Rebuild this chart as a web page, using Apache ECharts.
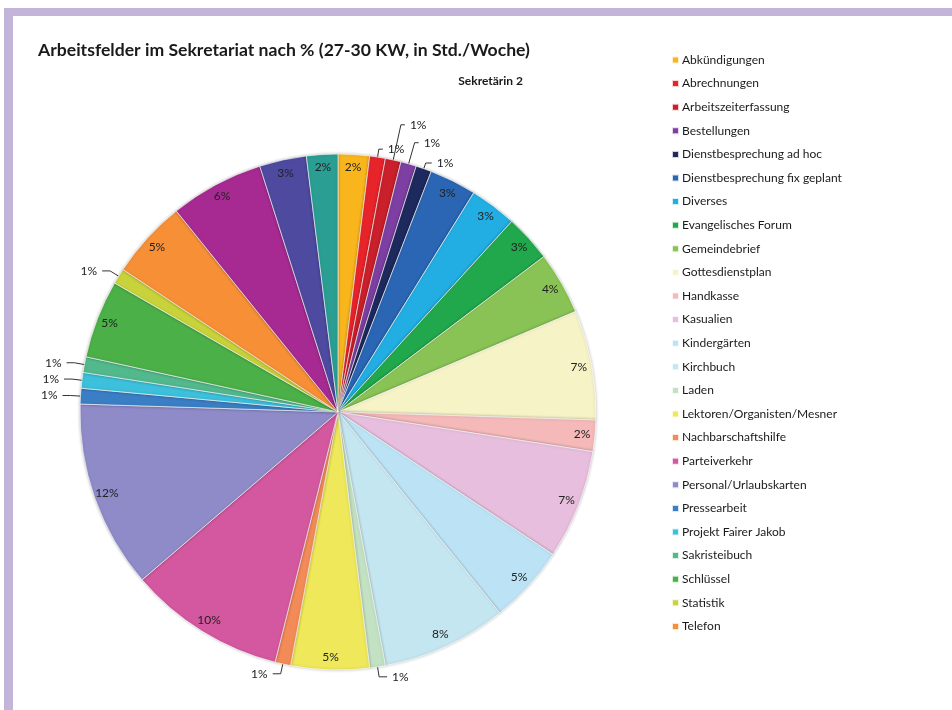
<!DOCTYPE html>
<html>
<head>
<meta charset="utf-8">
<script src="https://cdn.jsdelivr.net/npm/echarts@6/dist/echarts.min.js"></script>
<style>
  html, body { margin: 0; padding: 0; background: #fff; }
  #chart { width: 952px; height: 710px; }
</style>
</head>
<body>
<div id="chart"></div>
<script>
// Work areas of the office (share of hours per week, in %)
const categories = [
  'Abkündigungen', 'Abrechnungen', 'Arbeitszeiterfassung', 'Bestellungen',
  'Dienstbesprechung ad hoc', 'Dienstbesprechung fix geplant', 'Diverses',
  'Evangelisches Forum', 'Gemeindebrief', 'Gottesdienstplan', 'Handkasse',
  'Kasualien', 'Kindergärten', 'Kirchbuch', 'Laden',
  'Lektoren/Organisten/Mesner', 'Nachbarschaftshilfe', 'Parteiverkehr',
  'Personal/Urlaubskarten', 'Pressearbeit', 'Projekt Fairer Jakob',
  'Sakristeibuch', 'Schlüssel', 'Statistik', 'Telefon',
  'Termine', 'Verwaltung', 'Zuschüsse'
];
const shares = [
  2, 1, 1, 1, 1, 3, 3, 3, 4, 7, 2, 7, 5, 8, 1, 5, 1, 10, 12, 1, 1, 1, 5, 1, 5,
  6, 3, 2
];
const colors = [
  '#F8B61C', '#E8242B', '#C9202B', '#7D3FA2', '#1E2A5E', '#2A66B4', '#22AEE3',
  '#22A84C', '#8AC355', '#F6F3C6', '#F4B9B8', '#E7BEDD', '#BCE3F5', '#C4E6F0',
  '#C3E2C3', '#EEE85A', '#F28B57', '#D4589F', '#8E8BC8', '#3A7FC6', '#3DC0DB',
  '#52B98D', '#4BB048', '#C8D23A', '#F68F36', '#A62A91', '#4E4AA0', '#2A9E93'
];
// Only the first 25 fields appear in the legend
const legendCount = 25;

// Leader line lengths for the small slices near the top, staggered so the labels stay apart
const leaderLengths = {
  'Abrechnungen': [8, 4],
  'Arbeitszeiterfassung': [36, 4],
  'Bestellungen': [22, 4],
  'Dienstbesprechung ad hoc': [6, 6]
};

const chart = echarts.init(document.getElementById('chart'));
const FONT = 'Lato';
const R = 258;
const center = [338, 412];

const baseData = categories.map((n, i) => ({
  name: n, value: shares[i], itemStyle: { color: colors[i] }
}));

const labelData = categories.map((n, i) => {
  const small = shares[i] <= 1;
  const lens = leaderLengths[n] || [10, 8];
  return {
    name: n, value: shares[i],
    label: { position: small ? 'outside' : 'inside' },
    labelLine: { show: small, length: lens[0], length2: lens[1] }
  };
});

chart.setOption({
  backgroundColor: '#ffffff',
  animation: false,
  color: colors,
  title: [{
    text: 'Arbeitsfelder im Sekretariat nach % (27-30 KW, in Std./Woche)',
    left: 33, top: 36,
    textStyle: { fontFamily: FONT, fontSize: 17.6, fontWeight: 'bold', color: '#1a1a1a' }
  }, {
    text: 'Sekretärin 2',
    right: 424, top: 70,
    textStyle: { fontFamily: FONT, fontSize: 12, fontWeight: 'bold', color: '#1a1a1a' }
  }],
  legend: {
    orient: 'vertical',
    left: 666, top: 49,
    itemWidth: 7, itemHeight: 7, itemGap: 11.6,
    icon: 'rect',
    data: categories.slice(0, legendCount),
    textStyle: { fontFamily: FONT, fontSize: 12, color: '#1a1a1a', padding: [0, 0, 0, -2] }
  },
  graphic: [
    { type: 'rect', shape: { x: 4, y: 8, width: 948, height: 8 }, style: { fill: '#C3B5D9' }, silent: true },
    { type: 'rect', shape: { x: 4, y: 8, width: 9, height: 702 }, style: { fill: '#C3B5D9' }, silent: true }
  ],
  series: [{
    type: 'pie',
    center: center,
    radius: [0, R],
    startAngle: 90,
    clockwise: true,
    avoidLabelOverlap: false,
    label: { show: false },
    labelLine: { show: false },
    itemStyle: {
      borderColor: 'rgba(255,255,255,0.8)', borderWidth: 0.8,
      shadowBlur: 3, shadowColor: 'rgba(0,0,0,0.25)'
    },
    emphasis: { disabled: true },
    data: baseData
  }, {
    type: 'pie',
    center: center,
    radius: [226, R],
    startAngle: 90,
    clockwise: true,
    silent: true,
    avoidLabelOverlap: false,
    itemStyle: { color: 'rgba(0,0,0,0)' },
    label: {
      formatter: '{c}%', fontFamily: FONT, fontSize: 12, color: '#222'
    },
    labelLine: { length: 10, length2: 8, lineStyle: { color: '#333', width: 1 } },
    data: labelData
  }]
});
</script>
</body>
</html>
